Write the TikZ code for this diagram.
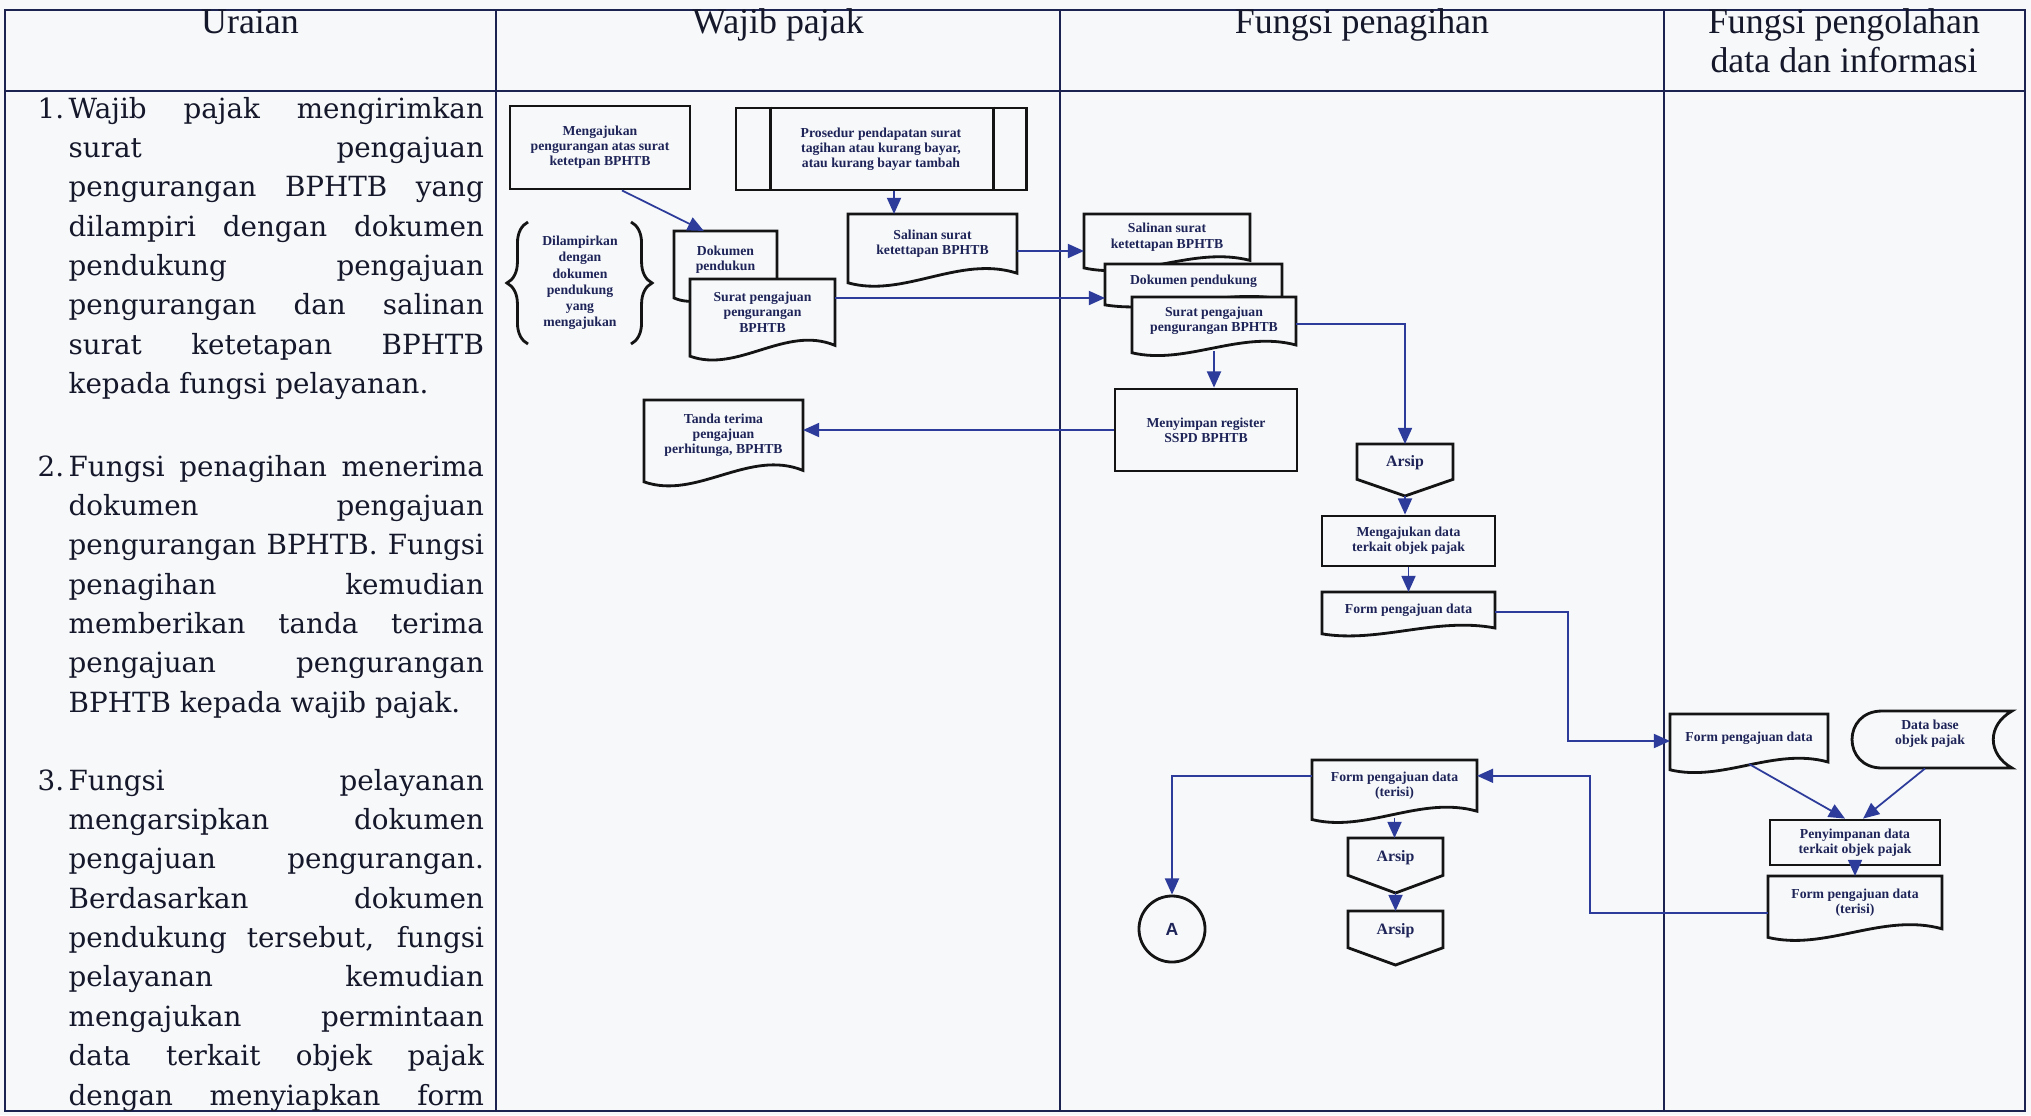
\documentclass[tikz,border=0pt]{standalone}
\usepackage{fontspec}
\setmainfont{DejaVu Serif}
\newfontfamily\hdfont{Liberation Serif}
\newfontfamily\bxfont{Liberation Serif}
\newfontfamily\sansf{Liberation Sans}
\usetikzlibrary{arrows.meta,calc,decorations.pathreplacing}
\definecolor{paper}{HTML}{F6F8FA}
\definecolor{tblc}{HTML}{1C2350}
\definecolor{connc}{HTML}{2D3C9A}
\definecolor{inkc}{HTML}{141414}
\definecolor{txtc}{HTML}{15172A}
\definecolor{btxt}{HTML}{1E2458}
\tikzset{
  tbl/.style={draw=tblc, line width=0.6pt},
  shp/.style={draw=inkc, line width=0.8pt, fill=paper},
  conn/.style={draw=connc, line width=0.5pt},
  arr/.style={conn, -{Triangle[length=4.6pt,width=4pt]}},
  lbl/.style={font=\bxfont\bfseries\fontsize{3.9}{4.3}\selectfont, text=btxt, align=center, inner sep=0},
  hd/.style={font=\hdfont\fontsize{10.2}{11}\selectfont, text=txtc, inner sep=0},
  bodytext/.style={font=\fontsize{7.9}{11.2}\selectfont, text=txtc, inner sep=0},
  anchorbox/.style={inner sep=0, outer sep=0, draw=none}
}
\newcommand\jl[1]{\makebox[4.15cm][s]{#1}\\}
\newcommand\mkrect[6]{%
  \pgfmathsetmacro\rW{(#4-#2)*0.01}\pgfmathsetmacro\rH{(#5-#3)*0.01}%
  \node[shp, lbl, minimum width=\rW cm, minimum height=\rH cm] (#1) at ({(#2+#4)/2},{(#3+#5)/2}) {#6};}
\newcommand\mkdoc[6]{%
  \pgfmathsetmacro\dW{#4-#2}\pgfmathsetmacro\dH{#5-#3}%
  \pgfmathsetmacro\yR{#5-0.2*\dH}\pgfmathsetmacro\yL{#5-0.07*\dH}%
  \pgfmathsetmacro\cax{#2+0.66*\dW}\pgfmathsetmacro\cay{#5-0.45*\dH}%
  \pgfmathsetmacro\cbx{#2+0.33*\dW}\pgfmathsetmacro\cby{#5+0.14*\dH}%
  \draw[shp] (#2,#3) -- (#4,#3) -- (#4,\yR) .. controls (\cax,\cay) and (\cbx,\cby) .. (#2,\yL) -- cycle;
  \pgfmathsetmacro\rW{\dW*0.01}\pgfmathsetmacro\rH{\dH*0.009}%
  \node[anchorbox, minimum width=\rW cm, minimum height=\rH cm] (#1) at ({(#2+#4)/2},{#3+0.45*\dH}) {};
  \node[lbl] (#1-t) at ({(#2+#4)/2},{#3+0.4*\dH}) {#6};}
\newcommand\mkarsip[5]{%
  \pgfmathsetmacro\dH{#5-#3}\pgfmathsetmacro\yM{#5-0.32*\dH}%
  \draw[shp] (#2,#3) -- (#4,#3) -- (#4,\yM) -- ({(#2+#4)/2},#5) -- (#2,\yM) -- cycle;
  \pgfmathsetmacro\rW{(#4-#2)*0.01}\pgfmathsetmacro\rH{\dH*0.01}%
  \node[anchorbox, minimum width=\rW cm, minimum height=\rH cm] (#1) at ({(#2+#4)/2},{(#3+#5)/2}) {};
  \node[lbl, font=\bxfont\bfseries\fontsize{4.5}{5}\selectfont] (#1-t) at ({(#2+#4)/2},{#3+0.36*\dH}) {Arsip};}
\begin{document}
\begin{tikzpicture}[x=0.01cm,y=-0.01cm]
\useasboundingbox (0,0) rectangle (2031,1115);
\fill[paper] (0,0) rectangle (2031,1115);
% ---------- table ----------
\draw[tbl] (5,10) rectangle (2025,1111);
\draw[tbl] (5,91) -- (2025,91);
\foreach \xx in {496,1060,1664} \draw[tbl] (\xx,10) -- (\xx,1111);
\node[hd, anchor=base] (h1) at (250,33) {Uraian};
\node[hd, anchor=base] (h2) at (778,33) {Wajib pajak};
\node[hd, anchor=base] (h3) at (1362,33) {Fungsi penagihan};
\node[hd, anchor=base] (h4) at (1844,33) {Fungsi pengolahan};
\node[hd, anchor=base] (h4b) at (1844,72) {data dan informasi};
% ---------- body text ----------
\node[bodytext, anchor=base west] (n1) at (37,118) {1.};
\node[bodytext, anchor=base west] (p1) at (68,118) {\parbox[t]{4.15cm}{%
\jl{Wajib pajak mengirimkan}\jl{surat pengajuan}\jl{pengurangan BPHTB yang}%
\jl{dilampiri dengan dokumen}\jl{pendukung pengajuan}\jl{pengurangan dan salinan}%
\jl{surat ketetapan BPHTB}kepada fungsi pelayanan.}};
\node[bodytext, anchor=base west] (n2) at (37,476) {2.};
\node[bodytext, anchor=base west] (p2) at (68,476) {\parbox[t]{4.15cm}{%
\jl{Fungsi penagihan menerima}\jl{dokumen pengajuan}\jl{pengurangan BPHTB. Fungsi}%
\jl{penagihan kemudian}\jl{memberikan tanda terima}\jl{pengajuan pengurangan}%
BPHTB kepada wajib pajak.}};
\node[bodytext, anchor=base west] (n3) at (37,790) {3.};
\node[bodytext, anchor=base west] (p3) at (68,790) {\parbox[t]{4.15cm}{%
\jl{Fungsi pelayanan}\jl{mengarsipkan dokumen}\jl{pengajuan pengurangan.}%
\jl{Berdasarkan dokumen}\jl{pendukung tersebut, fungsi}\jl{pelayanan kemudian}%
\jl{mengajukan permintaan}\jl{data terkait objek pajak}\makebox[4.15cm][s]{dengan menyiapkan form}}};
% ---------- Wajib pajak ----------
\mkrect{mgj}{510}{106}{690}{189}{Mengajukan\\pengurangan atas surat\\ketetpan BPHTB}
\node[shp, lbl, minimum width=2.9cm, minimum height=0.82cm] (pro) at (881,149) {Prosedur pendapatan surat\\tagihan atau kurang bayar,\\atau kurang bayar tambah};
\draw[inkc, line width=0.8pt] ($(pro.north west)+(36,0)$) -- ($(pro.south west)+(36,0)$);
\draw[inkc, line width=0.8pt] ($(pro.north east)+(-34,0)$) -- ($(pro.south east)+(-34,0)$);
\draw[inkc, line width=0.8pt, decorate, decoration={brace, amplitude=6pt}] (528,344) -- (528,222);
\draw[inkc, line width=0.8pt, decorate, decoration={brace, amplitude=6pt}] (631,222) -- (631,344);
\node[lbl, font=\bxfont\bfseries\fontsize{3.9}{4.6}\selectfont] (lamp) at (580,283) {Dilampirkan\\dengan\\dokumen\\pendukung\\yang\\mengajukan};
\mkdoc{dokA}{674}{231}{777}{303}{Dokumen\\pendukun}
\mkdoc{suratA}{690}{279}{835}{362}{Surat pengajuan\\pengurangan\\BPHTB}
\mkdoc{salA}{848}{214}{1017}{288}{Salinan surat\\ketettapan BPHTB}
\mkdoc{tanda}{644}{400}{803}{488}{Tanda terima\\pengajuan\\perhitunga, BPHTB}
% ---------- Fungsi penagihan ----------
\mkdoc{salB}{1084}{214}{1250}{272}{Salinan surat\\ketettapan BPHTB}
\mkdoc{dokB}{1105}{264}{1282}{308}{Dokumen pendukung}
\mkdoc{suratB}{1132}{297}{1296}{357}{Surat pengajuan\\pengurangan BPHTB}
\mkrect{simpan}{1115}{389}{1297}{471}{Menyimpan register\\SSPD BPHTB}
\mkarsip{arsA}{1357}{444}{1453}{496}
\mkrect{mdata}{1322}{516}{1495}{566}{Mengajukan data\\terkait objek pajak}
\mkdoc{formA}{1322}{592}{1495}{637}{Form pengajuan data}
\mkdoc{formB}{1312}{760}{1477}{824}{Form pengajuan data\\(terisi)}
\mkarsip{arsB}{1348}{838}{1443}{893}
\mkarsip{arsC}{1348}{911}{1443}{965}
\node[shp, circle, minimum size=0.66cm, inner sep=0, font=\sansf\bfseries\fontsize{5}{6}\selectfont, text=btxt] (A) at (1172,929) {A};
% ---------- Fungsi pengolahan ----------
\mkdoc{formC}{1670}{714}{1828}{774}{Form pengajuan data}
\draw[shp] (1882,711) -- (2012,711) .. controls (1987,725) and (1987,754) .. (2012,768) -- (1882,768) .. controls (1842,768) and (1842,711) .. (1882,711) -- cycle;
\node[anchorbox, minimum width=1.6cm, minimum height=0.57cm] (db) at (1932,740) {};
\node[lbl] (db-t) at (1930,734) {Data base\\objek pajak};
\mkrect{pen}{1770}{820}{1940}{865}{Penyimpanan data\\terkait objek pajak}
\mkdoc{formD}{1768}{876}{1942}{942}{Form pengajuan data\\(terisi)}
% ---------- connectors ----------
\draw[arr] ($(mgj.south west)!0.62!(mgj.south east)$) -- ($(dokA.north west)!0.29!(dokA.north east)$);
\coordinate (c1) at ($(pro.south)+(13,0)$);
\draw[arr] (c1) -- (c1 |- salA.north);
\coordinate (ys) at (0,251);
\draw[arr] (salA.east |- ys) -- (salB.west |- ys);
\coordinate (yd) at (0,298);
\draw[arr] (suratA.east |- yd) -- (dokB.west |- yd);
\draw[arr] (suratB.south) -- (suratB.south |- simpan.north);
\draw[arr] (simpan.west) -- (simpan.west -| tanda.east);
\draw[arr] (suratB.east) -| (arsA.north);
\draw[arr] (arsA.south) -- (arsA.south |- mdata.north);
\draw[arr] (mdata.south) -- (mdata.south |- formA.north);
\draw[arr] (formA.east) -- ++(73,0) |- (formC.west);
\draw[arr] ($(formC.south)+(0,-4)$) -- ($(pen.north)+(-10,0)$);
\draw[arr] ($(db.south)+(-7,0)$) -- ($(pen.north)+(8,0)$);
\draw[arr] (pen.south) -- (pen.south |- formD.north);
\coordinate (fd) at ($(formD.west)+(0,7)$);
\coordinate (fb) at ($(formB.east)+(0,-13)$);
\draw[arr] (fd) -- ++(-178,0) |- (fb);
\coordinate (fa) at ($(formB.west)+(0,-13)$);
\draw[arr] (fa) -| (A.north);
\draw[arr] (formB.south) -- (formB.south |- arsB.north);
\draw[arr] (arsB.south) -- (arsB.south |- arsC.north);
\end{tikzpicture}
\end{document}
